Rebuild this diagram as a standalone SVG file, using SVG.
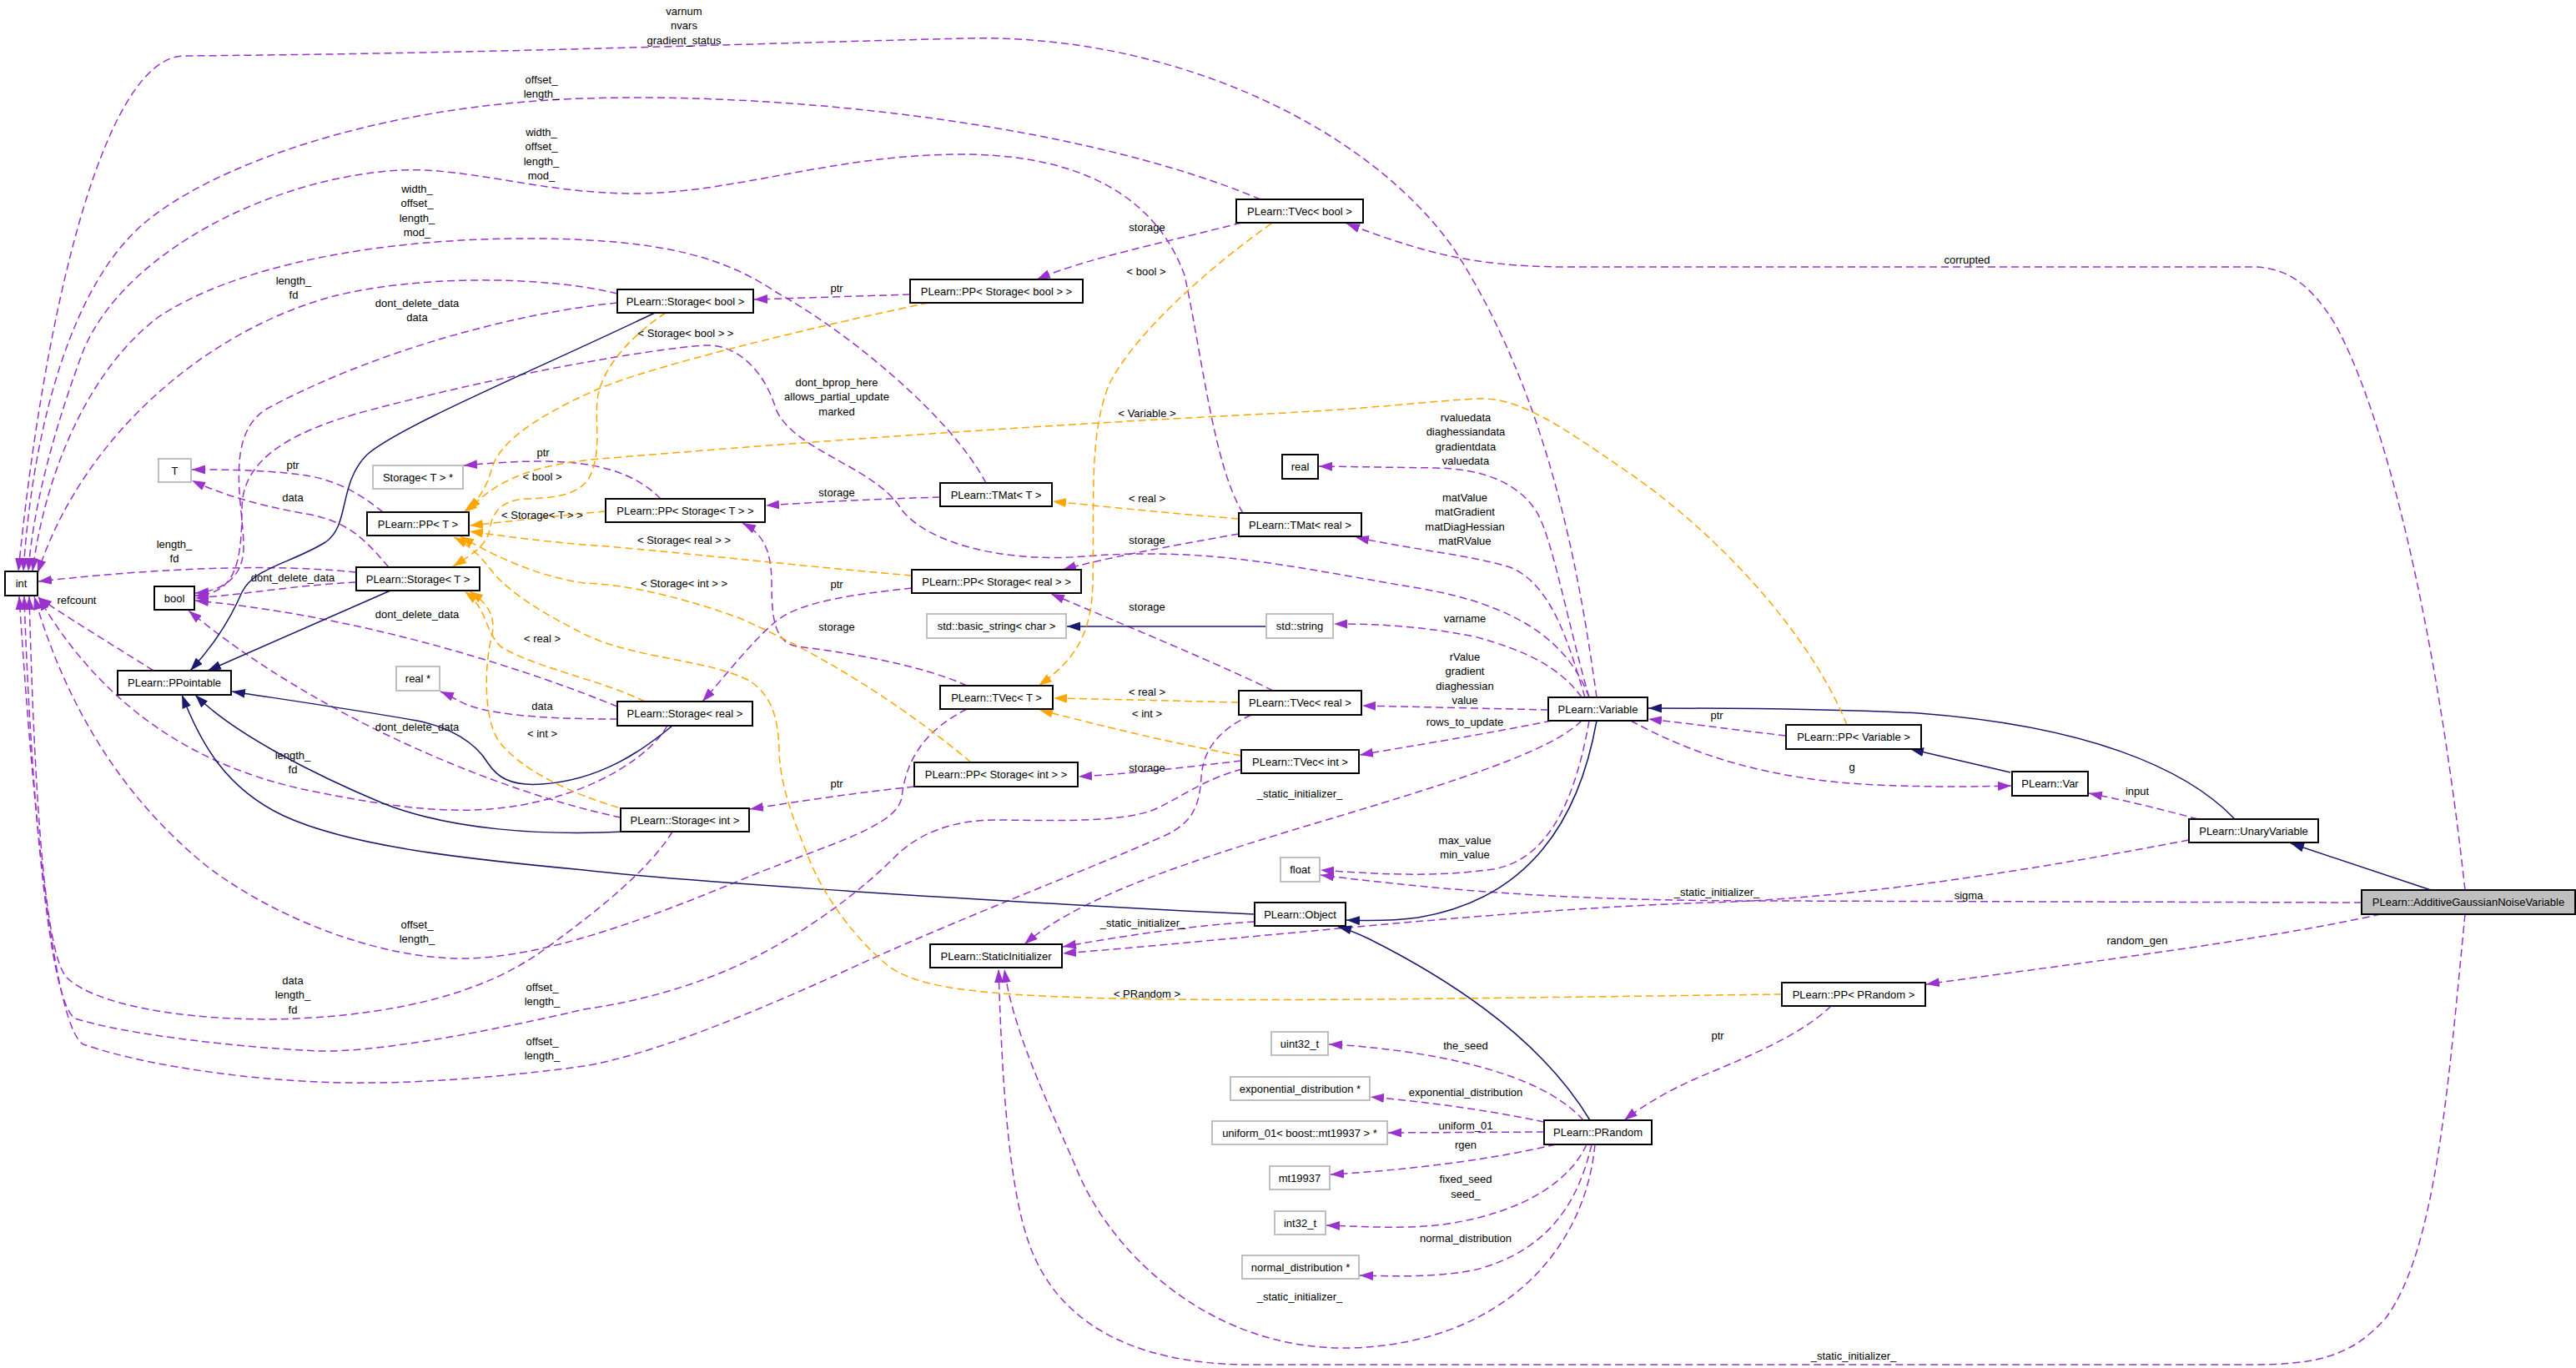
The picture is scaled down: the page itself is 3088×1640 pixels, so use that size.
<svg xmlns="http://www.w3.org/2000/svg" width="3088" height="1640" viewBox="0 0 3088 1640">
<defs>
<style>
.n rect{fill:#fff;stroke:#000;stroke-width:2}
.n.g rect{stroke:#bfbfbf}
.n.hl rect{fill:#bfbfbf}
.n text,.l{font-family:"Liberation Sans",Arial,Helvetica,sans-serif;font-size:13px;fill:#000;text-anchor:middle}
.m{fill:none;stroke:#9a32cd;stroke-width:1.5;stroke-dasharray:9,5;marker-end:url(#ap)}
.t{fill:none;stroke:#ffa500;stroke-width:1.5;stroke-dasharray:9,5;marker-end:url(#ao)}
.i{fill:none;stroke:#191970;stroke-width:1.5;marker-end:url(#ab)}
</style>
<marker id="ap" viewBox="0 0 16 11" refX="16" refY="5.5" markerWidth="16" markerHeight="11" markerUnits="userSpaceOnUse" orient="auto"><path d="M0,0 L16,5.5 L0,11 z" fill="#9a32cd"/></marker>
<marker id="ao" viewBox="0 0 16 11" refX="16" refY="5.5" markerWidth="16" markerHeight="11" markerUnits="userSpaceOnUse" orient="auto"><path d="M0,0 L16,5.5 L0,11 z" fill="#ffa500"/></marker>
<marker id="ab" viewBox="0 0 16 11" refX="16" refY="5.5" markerWidth="16" markerHeight="11" markerUnits="userSpaceOnUse" orient="auto"><path d="M0,0 L16,5.5 L0,11 z" fill="#191970"/></marker>
</defs>
<rect width="3088" height="1640" fill="#fff"/>
<g id="connectors">
<g><path class="m" d="M1914,836 C1895,700 1860,480 1744,300 C1640,150 1400,40 1158,46 C900,52 600,64 220,67 C120,70 50,400 22,685"/><text class="l" x="820" y="17.5"><tspan x="820">varnum</tspan><tspan x="820" dy="17.5">nvars</tspan><tspan x="820" dy="17.5">gradient_status</tspan></text></g>
<g><path class="m" d="M1511,239 C1300,150 950,110 700,118 C450,126 250,200 170,270 C90,340 40,500 28,685"/><text class="l" x="649" y="99.5"><tspan x="649">offset_</tspan><tspan x="649" dy="17.5">length_</tspan></text></g>
<g><path class="m" d="M1490,615 C1455,560 1440,420 1420,330 C1380,220 1270,185 1153,185 C1000,185 880,232 760,232 C650,232 560,200 480,204 C330,212 150,300 100,420 C70,500 40,600 34,685"/><text class="l" x="649" y="162.5"><tspan x="649">width_</tspan><tspan x="649" dy="17.5">offset_</tspan><tspan x="649" dy="17.5">length_</tspan><tspan x="649" dy="17.5">mod_</tspan></text></g>
<g><path class="m" d="M1182,579 C1140,500 1020,400 930,350 C870,310 800,288 650,286 C450,284 280,320 190,380 C110,440 55,560 39,685"/><text class="l" x="500" y="230.5"><tspan x="500">width_</tspan><tspan x="500" dy="17.5">offset_</tspan><tspan x="500" dy="17.5">length_</tspan><tspan x="500" dy="17.5">mod_</tspan></text></g>
<g><path class="m" d="M740,352 C650,330 500,330 400,355 C250,395 100,520 45,687"/><text class="l" x="352" y="340.5"><tspan x="352">length_</tspan><tspan x="352" dy="17.5">fd</tspan></text></g>
<g><path class="m" d="M740,363 C620,375 450,420 320,490 C270,520 290,600 292,650 C294,690 270,708 234,711"/><text class="l" x="500" y="367.5"><tspan x="500">dont_delete_data</tspan><tspan x="500" dy="17.5">data</tspan></text></g>
<g><path class="m" d="M1091,353 L904,359"/><text class="l" x="1003" y="349.5">ptr</text></g>
<g><path class="m" d="M1488,267 C1400,290 1300,310 1243,335"/><text class="l" x="1375" y="276.5">storage</text></g>
<g><path class="m" d="M2955,1067 C2920,750 2860,500 2800,390 C2770,340 2740,320 2700,320 L1880,320 C1760,320 1700,300 1614,268"/><text class="l" x="2358" y="315.5">corrupted</text></g>
<g><path class="m" d="M1905,836 C1880,770 1820,725 1700,705 C1550,680 1450,655 1300,667 C1200,675 1110,650 1080,610 C1050,560 950,540 930,490 C915,440 880,412 845,414 C780,418 600,450 450,490 C330,520 290,560 290,610 C290,680 280,712 234,714"/><text class="l" x="1003" y="462.5"><tspan x="1003">dont_bprop_here</tspan><tspan x="1003" dy="17.5">allows_partial_update</tspan><tspan x="1003" dy="17.5">marked</tspan></text></g>
<g><path class="m" d="M427,698 C350,702 300,712 234,717"/><text class="l" x="351" y="696.5">dont_delete_data</text></g>
<g><path class="m" d="M740,847 C650,810 450,740 234,720"/><text class="l" x="500" y="740.5">dont_delete_data</text></g>
<g><path class="m" d="M744,980 C600,950 380,860 226,732"/><text class="l" x="500" y="875.5">dont_delete_data</text></g>
<g><path class="m" d="M427,686 C330,676 200,680 46,697"/><text class="l" x="209" y="656.5"><tspan x="209">length_</tspan><tspan x="209" dy="17.5">fd</tspan></text></g>
<g><path class="m" d="M184,804 C130,770 80,740 46,716"/><text class="l" x="92" y="723.5">refcount</text></g>
<g><path class="m" d="M466,680 C440,650 420,625 367,616 C320,608 270,595 230,576"/><text class="l" x="351" y="600.5">data</text></g>
<g><path class="m" d="M459,614 C430,590 400,575 367,570 C320,563 270,563 230,563"/><text class="l" x="351" y="561.5">ptr</text></g>
<g><path class="m" d="M792,598 C760,565 710,553 650,553 C610,553 580,556 556,558"/><text class="l" x="651" y="546.5">ptr</text></g>
<g><path class="m" d="M1127,596 C1050,598 980,602 918,606"/><text class="l" x="1003" y="594.5">storage</text></g>
<g><path class="m" d="M1159,822 C1100,795 1000,780 955,775 C930,770 925,745 925,700 C925,660 915,640 890,627"/><text class="l" x="1003" y="755.5">storage</text></g>
<g><path class="m" d="M1093,705 C1030,712 960,720 930,745 C900,770 870,810 842,841"/><text class="l" x="1003" y="704.5">ptr</text></g>
<g><path class="m" d="M1485,640 C1400,655 1320,670 1274,683"/><text class="l" x="1375" y="651.5">storage</text></g>
<g><path class="m" d="M1526,828 C1470,800 1350,750 1260,712"/><text class="l" x="1375" y="731.5">storage</text></g>
<g><path class="m" d="M1488,912 C1420,920 1350,928 1293,931"/><text class="l" x="1375" y="924.5">storage</text></g>
<g><path class="m" d="M1096,943 C1030,950 960,960 899,970"/><text class="l" x="1003" y="943.5">ptr</text></g>
<g><path class="m" d="M1905,836 C1880,750 1860,640 1841,612 C1820,580 1780,562 1721,561 L1581,559"/><text class="l" x="1757" y="504.5"><tspan x="1757">rvaluedata</tspan><tspan x="1757" dy="17.5">diaghessiandata</tspan><tspan x="1757" dy="17.5">gradientdata</tspan><tspan x="1757" dy="17.5">valuedata</tspan></text></g>
<g><path class="m" d="M1900,836 C1880,770 1860,700 1810,680 C1760,665 1700,660 1625,644"/><text class="l" x="1756" y="600.5"><tspan x="1756">matValue</tspan><tspan x="1756" dy="17.5">matGradient</tspan><tspan x="1756" dy="17.5">matDiagHessian</tspan><tspan x="1756" dy="17.5">matRValue</tspan></text></g>
<g><path class="m" d="M1896,836 C1870,800 1830,780 1767,763 C1700,750 1650,748 1599,748"/><text class="l" x="1756" y="745.5">varname</text></g>
<g><path class="m" d="M1856,851 L1633,846"/><text class="l" x="1756" y="791.5"><tspan x="1756">rValue</tspan><tspan x="1756" dy="17.5">gradient</tspan><tspan x="1756" dy="17.5">diaghessian</tspan><tspan x="1756" dy="17.5">value</tspan></text></g>
<g><path class="m" d="M1860,864 C1780,880 1700,893 1630,905"/><text class="l" x="1756" y="869.5">rows_to_update</text></g>
<g><path class="m" d="M1896,864 C1860,900 1750,935 1600,980 C1450,1025 1300,1070 1228,1132"/><text class="l" x="1558" y="955.5">_static_initializer_</text></g>
<g><path class="m" d="M1905,864 C1890,950 1860,1030 1790,1042 C1720,1052 1650,1048 1583,1043"/><text class="l" x="1756" y="1011.5"><tspan x="1756">max_value</tspan><tspan x="1756" dy="17.5">min_value</tspan></text></g>
<g><path class="m" d="M2831,1082 L2120,1080 C1900,1080 1750,1070 1583,1049"/><text class="l" x="2360" y="1077.5">sigma</text></g>
<g><path class="m" d="M1504,1105 C1420,1110 1330,1125 1274,1135"/><text class="l" x="1370" y="1110.5">_static_initializer_</text></g>
<g><path class="m" d="M2624,1007 C2400,1050 2200,1078 2050,1082 C1800,1090 1500,1125 1274,1143"/><text class="l" x="2058" y="1073.5">_static_initializer_</text></g>
<g><path class="m" d="M2854,1096 C2700,1130 2450,1160 2309,1180"/><text class="l" x="2562" y="1131.5">random_gen</text></g>
<g><path class="m" d="M2195,1206 C2160,1240 2100,1265 2040,1290 C2000,1307 1970,1325 1947,1343"/><text class="l" x="2059" y="1245.5">ptr</text></g>
<g><path class="m" d="M2635,982 C2590,970 2550,960 2504,951"/><text class="l" x="2562" y="952.5">input</text></g>
<g><path class="m" d="M2141,882 C2080,875 2030,868 1976,862"/><text class="l" x="2058" y="861.5">ptr</text></g>
<g><path class="m" d="M1955,864 C2030,905 2120,935 2250,941 C2320,944 2370,943 2411,942"/><text class="l" x="2220" y="923.5">g</text></g>
<g><path class="m" d="M1898,1343 C1860,1300 1780,1275 1686,1261 C1650,1256 1620,1253 1593,1252"/><text class="l" x="1757" y="1257.5">the_seed</text></g>
<g><path class="m" d="M1851,1345 C1780,1330 1700,1320 1643,1315"/><text class="l" x="1757" y="1313.5">exponential_distribution</text></g>
<g><path class="m" d="M1851,1357 L1664,1358"/><text class="l" x="1757" y="1353.5">uniform_01</text></g>
<g><path class="m" d="M1865,1372 C1780,1392 1680,1403 1595,1408"/><text class="l" x="1757" y="1376.5">rgen</text></g>
<g><path class="m" d="M1902,1372 C1880,1420 1820,1455 1730,1468 C1680,1474 1630,1470 1590,1469"/><text class="l" x="1757" y="1417.5"><tspan x="1757">fixed_seed</tspan><tspan x="1757" dy="18">seed_</tspan></text></g>
<g><path class="m" d="M1908,1372 C1890,1450 1850,1500 1770,1522 C1720,1532 1670,1530 1630,1529"/><text class="l" x="1757" y="1488.5">normal_distribution</text></g>
<g><path class="m" d="M1912,1372 C1900,1500 1800,1610 1620,1616 C1450,1620 1330,1500 1290,1400 C1260,1330 1215,1240 1204,1162"/><text class="l" x="1558" y="1558.5">_static_initializer_</text></g>
<g><path class="m" d="M2955,1096 C2935,1300 2920,1500 2860,1580 C2820,1625 2780,1636 2700,1636 L1500,1636 C1350,1636 1260,1580 1230,1480 C1205,1400 1200,1250 1197,1162"/><text class="l" x="2222" y="1629.5">_static_initializer_</text></g>
<g><path class="m" d="M800,870 C780,905 720,945 640,962 C560,980 480,970 367,947 C250,922 130,860 46,716"/><text class="l" x="351" y="909.5"><tspan x="351">length_</tspan><tspan x="351" dy="17.5">fd</tspan></text></g>
<g><path class="m" d="M1159,850 C1100,880 1085,920 1081,956 C1075,990 1000,1010 900,1050 C780,1100 650,1150 551,1149 C450,1148 330,1100 250,1040 C150,960 80,850 41,715"/><text class="l" x="500" y="1112.5"><tspan x="500">offset_</tspan><tspan x="500" dy="17.5">length_</tspan></text></g>
<g><path class="m" d="M806,997 C780,1040 720,1090 650,1140 C580,1190 480,1215 357,1221 C250,1226 120,1210 80,1172 C50,1140 40,900 35,715"/><text class="l" x="351" y="1179.5"><tspan x="351">data</tspan><tspan x="351" dy="17.5">length_</tspan><tspan x="351" dy="17.5">fd</tspan></text></g>
<g><path class="m" d="M1489,922 C1440,935 1410,960 1380,972 C1340,985 1280,984 1200,983 C1140,982 1100,1000 1072,1028 C1040,1060 980,1110 900,1150 C840,1180 770,1200 700,1210 C580,1238 450,1262 380,1260 C280,1255 150,1240 90,1221 C55,1200 35,900 29,715"/><text class="l" x="650" y="1187.5"><tspan x="650">offset_</tspan><tspan x="650" dy="17.5">length_</tspan></text></g>
<g><path class="m" d="M1500,857 C1460,875 1442,900 1440,932 C1438,965 1430,985 1400,1000 C1300,1045 1150,1100 1000,1170 C900,1215 780,1265 700,1278 C600,1292 500,1298 446,1298 C330,1300 180,1280 100,1252 C60,1230 35,900 23,715"/><text class="l" x="650" y="1252.5"><tspan x="650">offset_</tspan><tspan x="650" dy="17.5">length_</tspan></text></g>
<g><path class="m" d="M740,862 C680,862 600,860 560,845 C545,838 535,832 528,829"/><text class="l" x="650" y="850.5">data</text></g>
<g><path class="i" d="M785,375 C650,440 480,510 440,545 C405,580 420,630 390,650 C350,675 305,680 290,710 C275,745 255,775 228,804"/></g>
<g><path class="i" d="M468,708 L249,804"/></g>
<g><path class="i" d="M806,870 C770,900 720,935 650,940 C610,943 595,930 585,915 C570,890 540,872 500,864 C420,850 350,840 278,829"/></g>
<g><path class="i" d="M750,997 C650,1002 540,995 459,963 C380,930 280,880 234,833"/></g>
<g><path class="i" d="M1504,1096 L1420,1092 C1100,1075 800,1055 700,1043 C560,1030 420,1015 340,978 C270,945 240,890 218,833"/></g>
<g><path class="i" d="M1518,751 L1279,751"/></g>
<g><path class="i" d="M1914,864 C1890,1000 1820,1080 1700,1100 C1670,1104 1640,1104 1614,1103"/></g>
<g><path class="i" d="M1906,1343 C1850,1250 1750,1180 1640,1125 C1625,1118 1612,1113 1604,1111"/></g>
<g><path class="i" d="M2679,982 C2620,920 2500,870 2300,855 C2200,850 2100,849 1976,849"/></g>
<g><path class="i" d="M2410,926 L2290,898"/></g>
<g><path class="i" d="M2914,1067 L2746,1011"/></g>
<g><path class="t" d="M798,375 C760,400 720,440 716,480 C713,510 722,545 705,575 C690,595 660,597 630,598 C600,600 590,615 587,635 C583,655 565,665 543,679"/><text class="l" x="650" y="575.5">&lt; bool &gt;</text></g>
<g><path class="t" d="M1113,363 C960,395 780,440 720,465 C640,500 600,530 590,560 C585,580 575,600 556,614"/><text class="l" x="822" y="403.5">&lt; Storage&lt; bool &gt; &gt;</text></g>
<g><path class="t" d="M2214,869 C2170,760 2060,640 1950,565 C1870,510 1820,475 1770,478 C1700,482 1650,490 1500,497 C1200,512 900,535 720,550 C650,556 600,570 561,612"/><text class="l" x="1375" y="499.5">&lt; Variable &gt;</text></g>
<g><path class="t" d="M726,613 C670,618 610,625 563,630"/><text class="l" x="650" y="621.5">&lt; Storage&lt; T &gt; &gt;</text></g>
<g><path class="t" d="M1093,690 C950,678 800,660 700,653 C640,648 600,642 563,637"/><text class="l" x="820" y="651.5">&lt; Storage&lt; real &gt; &gt;</text></g>
<g><path class="t" d="M1164,914 C1100,860 1000,790 884,740 C800,710 740,700 700,699 C640,690 590,665 552,643"/><text class="l" x="820" y="703.5">&lt; Storage&lt; int &gt; &gt;</text></g>
<g><path class="t" d="M2136,1192 C1800,1196 1500,1202 1300,1196 C1180,1192 1100,1185 1065,1158 C1030,1130 990,1080 970,1030 C950,980 935,940 934,900 C933,860 925,835 900,817 C850,790 760,790 700,760 C650,735 610,710 590,685 C575,665 560,652 544,644"/><text class="l" x="1375" y="1195.5">&lt; PRandom &gt;</text></g>
<g><path class="t" d="M773,841 C720,815 640,800 600,775 C580,755 585,730 557,709"/><text class="l" x="650" y="769.5">&lt; real &gt;</text></g>
<g><path class="t" d="M741,968 C680,950 620,920 597,887 C580,860 580,800 590,760 C595,735 580,720 563,709"/><text class="l" x="650" y="883.5">&lt; int &gt;</text></g>
<g><path class="t" d="M1524,268 C1450,320 1360,400 1330,460 C1305,520 1312,600 1310,700 C1308,760 1290,790 1245,822"/><text class="l" x="1374" y="329.5">&lt; bool &gt;</text></g>
<g><path class="t" d="M1485,842 C1400,840 1320,838 1263,837"/><text class="l" x="1375" y="833.5">&lt; real &gt;</text></g>
<g><path class="t" d="M1488,906 C1400,890 1320,870 1246,851"/><text class="l" x="1375" y="859.5">&lt; int &gt;</text></g>
<g><path class="t" d="M1485,622 C1400,615 1320,607 1262,601"/><text class="l" x="1375" y="601.5">&lt; real &gt;</text></g>
</g>
<g id="n_int" class="n"><rect x="6" y="685" width="39" height="29"/><text x="25.5" y="704">int</text></g>
<g id="n_T" class="n g"><rect x="190" y="550" width="39" height="28"/><text x="209.5" y="568.5">T</text></g>
<g id="n_bool" class="n"><rect x="185" y="703" width="48" height="28"/><text x="209" y="721.5">bool</text></g>
<g id="n_StorageTptr" class="n g"><rect x="447" y="558" width="108" height="28"/><text x="501" y="576.5">Storage&lt; T &gt; *</text></g>
<g id="n_PPT" class="n"><rect x="440" y="614" width="122" height="28"/><text x="501" y="632.5">PLearn::PP&lt; T &gt;</text></g>
<g id="n_StorageT" class="n"><rect x="427" y="680" width="148" height="28"/><text x="501" y="698.5">PLearn::Storage&lt; T &gt;</text></g>
<g id="n_PPointable" class="n"><rect x="141" y="804" width="136" height="29"/><text x="209" y="823">PLearn::PPointable</text></g>
<g id="n_realptr" class="n g"><rect x="475" y="799" width="52" height="29"/><text x="501" y="818">real *</text></g>
<g id="n_StorageBool" class="n"><rect x="740" y="347" width="163" height="28"/><text x="821.5" y="365.5">PLearn::Storage&lt; bool &gt;</text></g>
<g id="n_PPStorageBool" class="n"><rect x="1091" y="335" width="207" height="28"/><text x="1194.5" y="353.5">PLearn::PP&lt; Storage&lt; bool &gt; &gt;</text></g>
<g id="n_TVecBool" class="n"><rect x="1482" y="239" width="152" height="28"/><text x="1558" y="257.5">PLearn::TVec&lt; bool &gt;</text></g>
<g id="n_PPStorageT" class="n"><rect x="726" y="598" width="191" height="28"/><text x="821.5" y="616.5">PLearn::PP&lt; Storage&lt; T &gt; &gt;</text></g>
<g id="n_TMatT" class="n"><rect x="1127" y="579" width="134" height="28"/><text x="1194" y="597.5">PLearn::TMat&lt; T &gt;</text></g>
<g id="n_PPStorageReal" class="n"><rect x="1093" y="683" width="203" height="28"/><text x="1194.5" y="701.5">PLearn::PP&lt; Storage&lt; real &gt; &gt;</text></g>
<g id="n_basicString" class="n g"><rect x="1111" y="736" width="167" height="29"/><text x="1194.5" y="755">std::basic_string&lt; char &gt;</text></g>
<g id="n_TVecT" class="n"><rect x="1127" y="822" width="135" height="28"/><text x="1194.5" y="840.5">PLearn::TVec&lt; T &gt;</text></g>
<g id="n_StorageReal" class="n"><rect x="740" y="841" width="162" height="29"/><text x="821" y="860">PLearn::Storage&lt; real &gt;</text></g>
<g id="n_PPStorageInt" class="n"><rect x="1096" y="914" width="196" height="29"/><text x="1194" y="933">PLearn::PP&lt; Storage&lt; int &gt; &gt;</text></g>
<g id="n_StorageInt" class="n"><rect x="744" y="969" width="154" height="28"/><text x="821" y="987.5">PLearn::Storage&lt; int &gt;</text></g>
<g id="n_StaticInitializer" class="n"><rect x="1115" y="1132" width="158" height="28"/><text x="1194" y="1150.5">PLearn::StaticInitializer</text></g>
<g id="n_real" class="n"><rect x="1537" y="545" width="43" height="29"/><text x="1558.5" y="564">real</text></g>
<g id="n_TMatReal" class="n"><rect x="1485" y="615" width="147" height="28"/><text x="1558.5" y="633.5">PLearn::TMat&lt; real &gt;</text></g>
<g id="n_stdString" class="n g"><rect x="1518" y="736" width="80" height="29"/><text x="1558" y="755">std::string</text></g>
<g id="n_TVecReal" class="n"><rect x="1485" y="828" width="147" height="29"/><text x="1558.5" y="847">PLearn::TVec&lt; real &gt;</text></g>
<g id="n_TVecInt" class="n"><rect x="1488" y="899" width="141" height="28"/><text x="1558.5" y="917.5">PLearn::TVec&lt; int &gt;</text></g>
<g id="n_Variable" class="n"><rect x="1856" y="836" width="119" height="28"/><text x="1915.5" y="854.5">PLearn::Variable</text></g>
<g id="n_float" class="n g"><rect x="1535" y="1028" width="47" height="29"/><text x="1558.5" y="1047">float</text></g>
<g id="n_Object" class="n"><rect x="1504" y="1082" width="109" height="28"/><text x="1558.5" y="1100.5">PLearn::Object</text></g>
<g id="n_PPVariable" class="n"><rect x="2141" y="869" width="162" height="29"/><text x="2222" y="888">PLearn::PP&lt; Variable &gt;</text></g>
<g id="n_Var" class="n"><rect x="2412" y="925" width="91" height="29"/><text x="2457.5" y="944">PLearn::Var</text></g>
<g id="n_UnaryVariable" class="n"><rect x="2624" y="982" width="155" height="28"/><text x="2701.5" y="1000.5">PLearn::UnaryVariable</text></g>
<g id="n_AdditiveGaussianNoiseVariable" class="n hl"><rect x="2831" y="1067" width="256" height="29"/><text x="2959" y="1086">PLearn::AdditiveGaussianNoiseVariable</text></g>
<g id="n_PPPRandom" class="n"><rect x="2136" y="1178" width="172" height="28"/><text x="2222" y="1196.5">PLearn::PP&lt; PRandom &gt;</text></g>
<g id="n_uint32" class="n g"><rect x="1524" y="1237" width="68" height="28"/><text x="1558" y="1255.5">uint32_t</text></g>
<g id="n_expdist" class="n g"><rect x="1475" y="1291" width="167" height="28"/><text x="1558.5" y="1309.5">exponential_distribution *</text></g>
<g id="n_uniform" class="n g"><rect x="1453" y="1344" width="210" height="28"/><text x="1558" y="1362.5">uniform_01&lt; boost::mt19937 &gt; *</text></g>
<g id="n_mt19937" class="n g"><rect x="1522" y="1398" width="72" height="28"/><text x="1558" y="1416.5">mt19937</text></g>
<g id="n_int32" class="n g"><rect x="1528" y="1452" width="61" height="28"/><text x="1558.5" y="1470.5">int32_t</text></g>
<g id="n_normal" class="n g"><rect x="1489" y="1505" width="140" height="28"/><text x="1559" y="1523.5">normal_distribution *</text></g>
<g id="n_PRandom" class="n"><rect x="1851" y="1343" width="129" height="29"/><text x="1915.5" y="1362">PLearn::PRandom</text></g>
</svg>
